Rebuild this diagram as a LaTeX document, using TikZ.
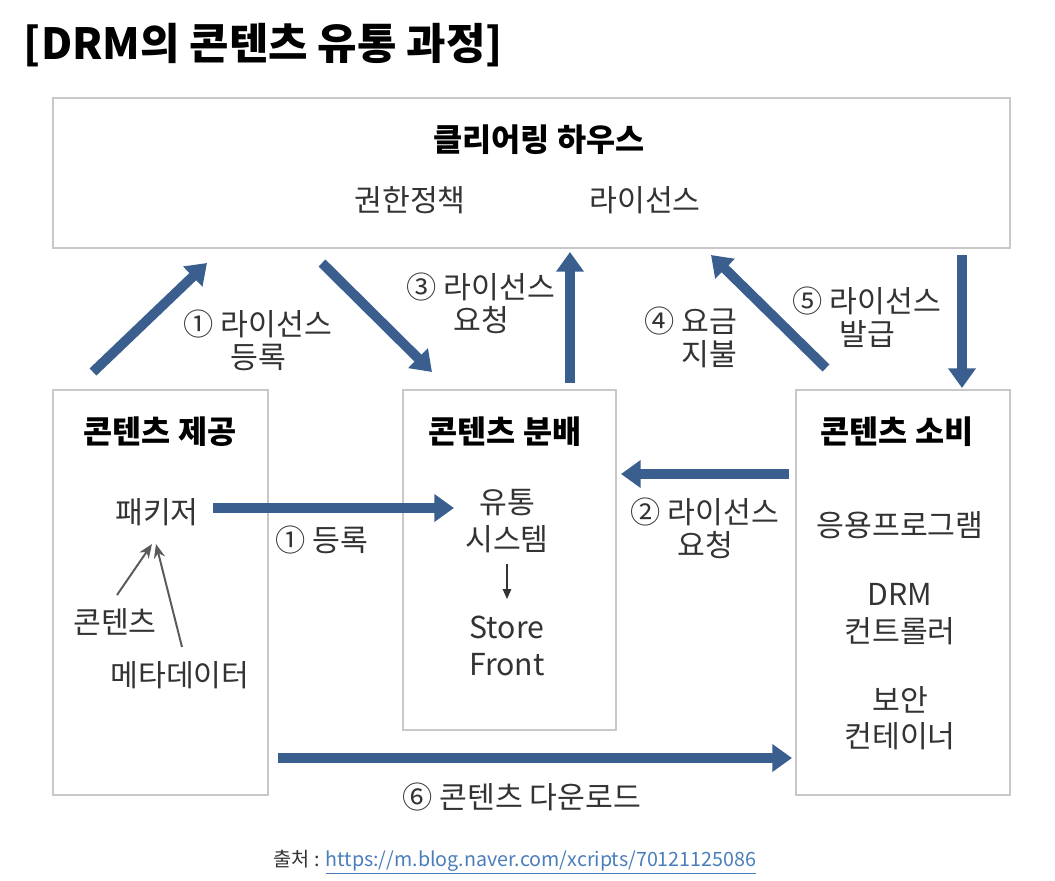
\documentclass[tikz,border=0pt]{standalone}
\usepackage{fontspec}
\setmainfont{Noto Sans CJK KR}
\usetikzlibrary{arrows.meta, positioning}
\definecolor{flowblue}{HTML}{3A5F8E}
\definecolor{boxgray}{HTML}{C8C8C8}
\definecolor{textgray}{HTML}{333333}
\definecolor{linkblue}{HTML}{4A7EBB}
\definecolor{feedgray}{HTML}{5A5A5A}

\begin{document}
\begin{tikzpicture}[x=0.025cm, y=-0.025cm,
  box/.style={rectangle, draw=boxgray, line width=1.2pt, inner sep=0pt},
  head/.style={font=\fontsize{22.5}{26}\selectfont\bfseries, text=black},
  item/.style={font=\fontsize{21.5}{26}\selectfont, text=textgray, align=center},
  lbl/.style={font=\fontsize{21.5}{23.5}\selectfont, text=textgray, align=center},
  flow/.style={-{Triangle[length=14pt, width=19pt]}, line width=7pt, draw=flowblue},
  feed/.style={-{Stealth[length=10pt, width=8pt]}, line width=1.4pt, draw=feedgray}]
\useasboundingbox (0,0) rectangle (1055,881);

\node[anchor=west, font=\fontsize{30.5}{34}\selectfont\bfseries] (title) at (19,45) {[DRM의 콘텐츠 유통 과정]};

% the four parties
\node[box, minimum width=23.925cm, minimum height=3.75cm] (house) at (531.5,173) {};
\node[box, minimum width=5.375cm, minimum height=10.125cm] (prov) at (160.5,592.5) {};
\node[box, minimum width=5.325cm, minimum height=8.5cm] (dist) at (509.5,560) {};
\node[box, minimum width=5.35cm, minimum height=10.125cm] (cons) at (903,592.5) {};

\node[head] (houseT) at (539,140) {클리어링 하우스};
\node[item] (policy) at (410,200) {권한정책};
\node[item] (licence) at (645,200) {라이선스};

\node[head] (provT) at (160,432) {콘텐츠 제공};
\node[item] (packer) at (157,512) {패키저};
\node[item] (content) at (115,622) {콘텐츠};
\node[item] (meta) at (180,675) {메타데이터};

\node[head] (distT) at (505,432) {콘텐츠 분배};
\node[item] (system) at (507,521) {유통\\시스템};
\node[item] (store) at (507,646) {Store\\Front};

\node[head] (consT) at (897,432) {콘텐츠 소비};
\node[item] (app) at (900,525) {응용프로그램};
\node[item] (ctrl) at (900,614) {DRM\\컨트롤러};
\node[item] (safe) at (900,718) {보안\\컨테이너};

% arrow ends
\coordinate (r1a) at (93,372);   \coordinate (r1b) at (207,263);
\coordinate (r3a) at (322,263);  \coordinate (r3b) at (432,372);
\coordinate (q3a) at (570,383);  \coordinate (q3b) at (570,252);
\coordinate (p4a) at (826,368);  \coordinate (p4b) at (711,255);
\coordinate (i5a) at (962,255);  \coordinate (i5b) at (962,388);
\coordinate (g1a) at (213,508);  \coordinate (g1b) at (454,508);
\coordinate (q2a) at (789,474);  \coordinate (q2b) at (621,474);
\coordinate (d6a) at (278,758);  \coordinate (d6b) at (792,758);
\coordinate (pk1) at (152,544);  \coordinate (pk2) at (156,544);
\coordinate (c1) at (117,595);   \coordinate (m1) at (182,647);

\draw[flow] (r1a) -- (r1b);
\draw[flow] (r3a) -- (r3b);
\draw[flow] (q3a) -- (q3b);
\draw[flow] (p4a) -- (p4b);
\draw[flow] (i5a) -- (i5b);
\draw[flow] (g1a) -- (g1b);
\draw[flow] (q2a) -- (q2b);
\draw[flow] (d6a) -- (d6b);

\draw[feed] (c1) -- (pk1);
\draw[feed] (m1) -- (pk2);
\draw[-{Triangle[length=7pt, width=6pt]}, line width=1pt, draw=textgray] (system.south) ++(0,6) coordinate (s1) -- (store.north |- 0,599) coordinate (s2);

\node[lbl] (l1) at (258,340) {① 라이선스\\등록};
\node[lbl] (l3) at (481,303) {③ 라이선스\\요청};
\node[lbl, align=right, anchor=east] (l4) at (742,337) {④ 요금\\지불};
\node[lbl] (l5) at (867,317) {⑤ 라이선스\\발급};
\node[lbl] (lg) at (322,540) {① 등록};
\node[lbl] (l2) at (705,528) {② 라이선스\\요청};
\node[lbl] (l6) at (522,797) {⑥ 콘텐츠 다운로드};

\node[font=\fontsize{14}{16}\selectfont, text=textgray] (src) at (515,862) {출처 : \textcolor{linkblue}{\underline{https://m.blog.naver.com/xcripts/70121125086}}};
\end{tikzpicture}
\end{document}
